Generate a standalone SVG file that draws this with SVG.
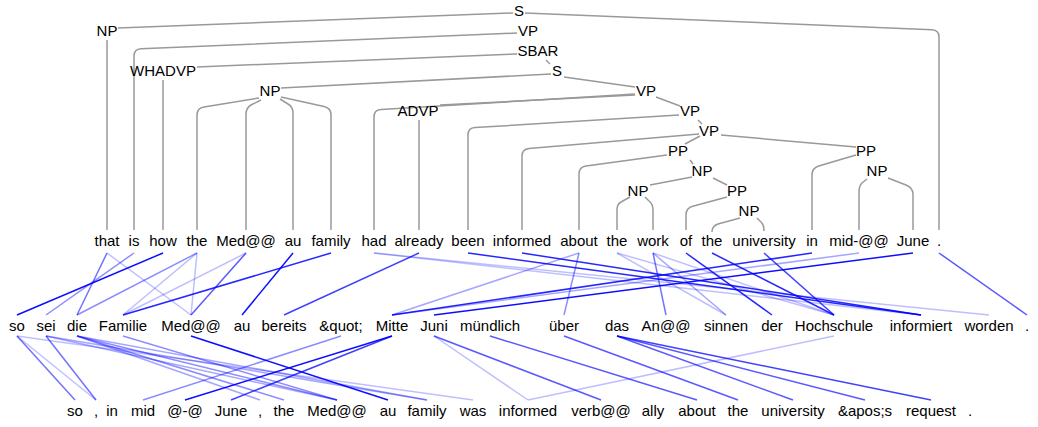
<svg xmlns="http://www.w3.org/2000/svg" width="1038" height="427" viewBox="0 0 1038 427">
<style>
text{font-family:"Liberation Sans",Arial,Helvetica,sans-serif;font-size:15px;fill:#000;text-anchor:middle}
.t{fill:none;stroke:#999;stroke-width:1.5}
.a{stroke:#0000ff;stroke-width:1.5;fill:none}
.o2{stroke-opacity:.25}.o3{stroke-opacity:.35}.o4{stroke-opacity:.45}.o5{stroke-opacity:.55}.o6{stroke-opacity:.65}.o7{stroke-opacity:.75}.o8{stroke-opacity:.85}.o9{stroke-opacity:.95}
</style>
<rect width="1038" height="427" fill="#fff"/>
<g id="tree-connectors">
<path class="t" d="M513,13 L118,28"/>
<path class="t" d="M517,54 L197,67"/>
<path class="t" d="M546,60 L550,64"/>
<path class="t" d="M551,74 L281,88"/>
<path class="t" d="M564,77 L635,87"/>
<path class="t" d="M635,95 L440,105"/>
<path class="t" d="M656,97 L680,106"/>
<path class="t" d="M698,120 L702,124"/>
<path class="t" d="M700,136 L685,144"/>
<path class="t" d="M721,135 L856,147"/>
<path class="t" d="M690,160 L693,164"/>
<path class="t" d="M692,177 L650,185"/>
<path class="t" d="M713,178 L727,185"/>
<path class="t" d="M517,33 L141,48.7 Q134,49 134,56 V230"/>
<path class="t" d="M525,13 L932,29.7 Q939,30 939,37 V230"/>
<path class="t" d="M635,94 L381,109.6 Q374,110 374,117 V230"/>
<path class="t" d="M679,115 L475,127.6 Q468,128 468,135 V230"/>
<path class="t" d="M699,134 L529,148.4 Q522,149 522,156 V230"/>
<path class="t" d="M667,155 L586,166 Q579,167 579,174 V230"/>
<path class="t" d="M630,197 L621,202 Q617,204 617,210 V230"/>
<path class="t" d="M645,197 L649,201 Q653,204 653,210 V230"/>
<path class="t" d="M727,197 L692.8,206.2 Q686,208 686,215 V230"/>
<path class="t" d="M740,218 L718,224 Q712,226 712,232"/>
<path class="t" d="M757,218 L760,221 Q764,224 764,231"/>
<path class="t" d="M856,155 L818.7,166 Q812,168 812,175 V230"/>
<path class="t" d="M867,179 L862,183 Q859,186 859,192 V230"/>
<path class="t" d="M888,178 L906,185 Q913,188 913,194 V230"/>
<path class="t" d="M259,98 L204,106.9 Q197,108 197,115 V230"/>
<path class="t" d="M261,100 L251,105 Q246,108 246,114 V230"/>
<path class="t" d="M280,99 L288,104 Q293,107 293,113 V230"/>
<path class="t" d="M281,97 L324,106.5 Q331,108 331,115 V230"/>
<path class="t" d="M107,40 V230"/>
<path class="t" d="M163,80 V230"/>
<path class="t" d="M419,120 V230"/>
</g>
<g id="alignment-connectors">
<line class="a o5" x1="107" y1="253" x2="77" y2="315"/>
<line class="a o2" x1="107" y1="253" x2="191" y2="315"/>
<line class="a o4" x1="134" y1="253" x2="46" y2="315"/>
<line class="a o9" x1="163" y1="253" x2="17" y2="315"/>
<line class="a o4" x1="197" y1="253" x2="77" y2="315"/>
<line class="a o2" x1="197" y1="253" x2="123" y2="315"/>
<line class="a o2" x1="197" y1="253" x2="191" y2="315"/>
<line class="a o2" x1="246" y1="253" x2="123" y2="315"/>
<line class="a o6" x1="246" y1="253" x2="191" y2="315"/>
<line class="a o9" x1="293" y1="253" x2="242" y2="315"/>
<line class="a o8" x1="331" y1="253" x2="123" y2="315"/>
<line class="a o7" x1="419" y1="253" x2="284" y2="315"/>
<line class="a o2" x1="374" y1="253" x2="989" y2="315"/>
<line class="a o2" x1="374" y1="253" x2="921" y2="315"/>
<line class="a o8" x1="468" y1="253" x2="921" y2="315"/>
<line class="a o8" x1="522" y1="253" x2="921" y2="315"/>
<line class="a o3" x1="579" y1="253" x2="392" y2="315"/>
<line class="a o4" x1="579" y1="253" x2="564" y2="315"/>
<line class="a o2" x1="617" y1="253" x2="726" y2="315"/>
<line class="a o2" x1="617" y1="253" x2="834" y2="315"/>
<line class="a o5" x1="653" y1="253" x2="666" y2="315"/>
<line class="a o3" x1="653" y1="253" x2="726" y2="315"/>
<line class="a o2" x1="653" y1="253" x2="834" y2="315"/>
<line class="a o8" x1="686" y1="253" x2="772" y2="315"/>
<line class="a o8" x1="712" y1="253" x2="834" y2="315"/>
<line class="a o7" x1="764" y1="253" x2="834" y2="315"/>
<line class="a o8" x1="812" y1="253" x2="392" y2="315"/>
<line class="a o3" x1="859" y1="253" x2="392" y2="315"/>
<line class="a o9" x1="913" y1="253" x2="434" y2="315"/>
<line class="a o6" x1="939" y1="253" x2="1027" y2="315"/>

<line class="a o5" x1="17" y1="336" x2="75" y2="400"/>
<line class="a o2" x1="17" y1="336" x2="96" y2="400"/>
<line class="a o5" x1="46" y1="336" x2="96" y2="400"/>
<line class="a o2" x1="17" y1="336" x2="473" y2="400"/>
<line class="a o3" x1="46" y1="336" x2="337" y2="400"/>
<line class="a o3" x1="46" y1="336" x2="427" y2="400"/>
<line class="a o3" x1="77" y1="336" x2="260" y2="400"/>
<line class="a o4" x1="77" y1="336" x2="284" y2="400"/>
<line class="a o4" x1="77" y1="336" x2="337" y2="400"/>
<line class="a o3" x1="77" y1="336" x2="427" y2="400"/>
<line class="a o4" x1="123" y1="336" x2="337" y2="400"/>
<line class="a o9" x1="191" y1="336" x2="388" y2="400"/>
<line class="a o4" x1="341" y1="336" x2="143" y2="400"/>
<line class="a o9" x1="392" y1="336" x2="185" y2="400"/>
<line class="a o7" x1="392" y1="336" x2="231" y2="400"/>
<line class="a o2" x1="434" y1="336" x2="528" y2="400"/>
<line class="a o6" x1="434" y1="336" x2="601" y2="400"/>
<line class="a o6" x1="490" y1="336" x2="697" y2="400"/>
<line class="a o6" x1="564" y1="336" x2="738" y2="400"/>
<line class="a o6" x1="617" y1="336" x2="793" y2="400"/>
<line class="a o6" x1="617" y1="336" x2="865" y2="400"/>
<line class="a o7" x1="617" y1="336" x2="931" y2="400"/>
<line class="a o2" x1="834" y1="336" x2="528" y2="400"/>
</g>
<g id="n-S1"><text x="519" y="16">S</text></g>
<g id="n-NP1"><text x="107" y="36">NP</text></g>
<g id="n-VP1"><text x="528" y="36">VP</text></g>
<g id="n-SBAR"><text x="538" y="56">SBAR</text></g>
<g id="n-WHADVP"><text x="163" y="76">WHADVP</text></g>
<g id="n-S2"><text x="557" y="76">S</text></g>
<g id="n-NP2"><text x="270" y="96">NP</text></g>
<g id="n-VP2"><text x="646" y="96">VP</text></g>
<g id="n-ADVP"><text x="418" y="116">ADVP</text></g>
<g id="n-VP3"><text x="690" y="116">VP</text></g>
<g id="n-VP4"><text x="709" y="136">VP</text></g>
<g id="n-PP1"><text x="678" y="156">PP</text></g>
<g id="n-PP2"><text x="866" y="156">PP</text></g>
<g id="n-NP3"><text x="702" y="176">NP</text></g>
<g id="n-NP4"><text x="877" y="176">NP</text></g>
<g id="n-NP5"><text x="638" y="196">NP</text></g>
<g id="n-PP3"><text x="737" y="196">PP</text></g>
<g id="n-NP6"><text x="749" y="216">NP</text></g>
<g id="src-0"><text x="107" y="246">that</text></g>
<g id="src-1"><text x="134" y="246">is</text></g>
<g id="src-2"><text x="163" y="246">how</text></g>
<g id="src-3"><text x="197" y="246">the</text></g>
<g id="src-4"><text x="246" y="246">Med@@</text></g>
<g id="src-5"><text x="293" y="246">au</text></g>
<g id="src-6"><text x="331" y="246">family</text></g>
<g id="src-7"><text x="374" y="246">had</text></g>
<g id="src-8"><text x="419" y="246">already</text></g>
<g id="src-9"><text x="468" y="246">been</text></g>
<g id="src-10"><text x="522" y="246">informed</text></g>
<g id="src-11"><text x="579" y="246">about</text></g>
<g id="src-12"><text x="617" y="246">the</text></g>
<g id="src-13"><text x="653" y="246">work</text></g>
<g id="src-14"><text x="686" y="246">of</text></g>
<g id="src-15"><text x="712" y="246">the</text></g>
<g id="src-16"><text x="764" y="246">university</text></g>
<g id="src-17"><text x="812" y="246">in</text></g>
<g id="src-18"><text x="859" y="246">mid-@@</text></g>
<g id="src-19"><text x="913" y="246">June</text></g>
<g id="src-20"><text x="939" y="246">.</text></g>
<g id="de-0"><text x="17" y="331">so</text></g>
<g id="de-1"><text x="46" y="331">sei</text></g>
<g id="de-2"><text x="77" y="331">die</text></g>
<g id="de-3"><text x="123" y="331">Familie</text></g>
<g id="de-4"><text x="191" y="331">Med@@</text></g>
<g id="de-5"><text x="242" y="331">au</text></g>
<g id="de-6"><text x="284" y="331">bereits</text></g>
<g id="de-7"><text x="341" y="331">&amp;quot;</text></g>
<g id="de-8"><text x="392" y="331">Mitte</text></g>
<g id="de-9"><text x="434" y="331">Juni</text></g>
<g id="de-10"><text x="490" y="331">mündlich</text></g>
<g id="de-11"><text x="564" y="331">über</text></g>
<g id="de-12"><text x="617" y="331">das</text></g>
<g id="de-13"><text x="666" y="331">An@@</text></g>
<g id="de-14"><text x="726" y="331">sinnen</text></g>
<g id="de-15"><text x="772" y="331">der</text></g>
<g id="de-16"><text x="834" y="331">Hochschule</text></g>
<g id="de-17"><text x="921" y="331">informiert</text></g>
<g id="de-18"><text x="989" y="331">worden</text></g>
<g id="de-19"><text x="1027" y="331">.</text></g>
<g id="en-0"><text x="75" y="416">so</text></g>
<g id="en-1"><text x="96" y="416">,</text></g>
<g id="en-2"><text x="112" y="416">in</text></g>
<g id="en-3"><text x="143" y="416">mid</text></g>
<g id="en-4"><text x="185" y="416">@-@</text></g>
<g id="en-5"><text x="231" y="416">June</text></g>
<g id="en-6"><text x="260" y="416">,</text></g>
<g id="en-7"><text x="284" y="416">the</text></g>
<g id="en-8"><text x="337" y="416">Med@@</text></g>
<g id="en-9"><text x="388" y="416">au</text></g>
<g id="en-10"><text x="427" y="416">family</text></g>
<g id="en-11"><text x="473" y="416">was</text></g>
<g id="en-12"><text x="528" y="416">informed</text></g>
<g id="en-13"><text x="601" y="416">verb@@</text></g>
<g id="en-14"><text x="653" y="416">ally</text></g>
<g id="en-15"><text x="697" y="416">about</text></g>
<g id="en-16"><text x="738" y="416">the</text></g>
<g id="en-17"><text x="793" y="416">university</text></g>
<g id="en-18"><text x="865" y="416">&amp;apos;s</text></g>
<g id="en-19"><text x="931" y="416">request</text></g>
<g id="en-20"><text x="970" y="416">.</text></g>
</svg>
